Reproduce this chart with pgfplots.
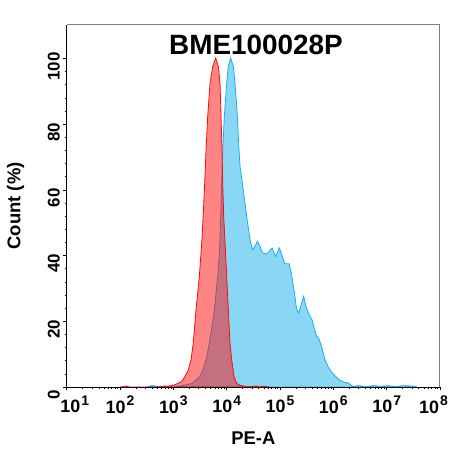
\documentclass[border=0pt]{standalone}
\usepackage{pgfplots}
\pgfplotsset{compat=1.18}
\usepackage{fontspec}
\setmainfont{Liberation Sans}
\definecolor{cblue}{RGB}{20,175,235}
\definecolor{cred}{RGB}{255,10,10}
\newcommand{\tl}[1]{10\hspace{1pt}\raisebox{0.41em}{\fontsize{14}{14}\selectfont #1}}
\begin{document}
\begin{tikzpicture}
\begin{axis}[
  at={(0,0)}, anchor=south west,
  scale only axis, width=373.3bp, height=362.3bp,
  xmin=1, xmax=8, ymin=0, ymax=110.25,
  axis x line*=bottom, axis y line*=left,
  axis line style={black, line width=0.8bp},
  axis on top,
  tick align=outside,
  major tick length=3.5bp, minor tick length=2bp,
  every tick/.style={black, line width=0.6bp},
  xtick={1,2,3,4,5,6,7,8},
  xticklabels={\hbox{\kern16bp\tl{1}},\tl{2},\tl{3},\tl{4},\tl{5},\tl{6},\tl{7},\hbox{\tl{8}\kern13bp}},
  minor xtick={1.301,1.477,1.602,1.699,1.778,1.845,1.903,1.954,
    2.301,2.477,2.602,2.699,2.778,2.845,2.903,2.954,
    3.301,3.477,3.602,3.699,3.778,3.845,3.903,3.954,
    4.301,4.477,4.602,4.699,4.778,4.845,4.903,4.954,
    5.301,5.477,5.602,5.699,5.778,5.845,5.903,5.954,
    6.301,6.477,6.602,6.699,6.778,6.845,6.903,6.954,
    7.301,7.477,7.602,7.699,7.778,7.845,7.903,7.954},
  ytick={0,20,40,60,80,100},
  minor y tick num=4,
  /pgf/number format/assume math mode=true,
  ticklabel style={font=\fontsize{18}{18}\selectfont\bfseries},
  yticklabel style={font=\fontsize{17}{17}\selectfont\bfseries, rotate=90, anchor=south, xshift=-8bp},
  xticklabel style={anchor=north, yshift=-2bp},
  xlabel={PE-A}, ylabel={Count (\%)},
  xlabel style={font=\fontsize{18.5}{18.5}\selectfont\bfseries, at={(rel axis cs:0.5,-0.142)}, anchor=center},
  ylabel style={font=\fontsize{18.5}{18.5}\selectfont\bfseries, at={(rel axis cs:-0.137,0.5)}, anchor=center, rotate=0},
  clip=false,
]
\addplot[draw=cblue, line width=0.8bp, fill=cblue, fill opacity=0.5, draw opacity=1] table {
2.50 0
2.56 0.3
2.62 0.4
2.69 0.2
2.75 0
3.0 0
3.125 0.3
3.25 0.7
3.344 1.1
3.42 2.0
3.5 3.2
3.56 5.5
3.613 8.3
3.675 13.4
3.72 18
3.769 23.5
3.80 28.5
3.831 33.6
3.855 39
3.875 45
3.888 52
3.906 62.1
3.925 72.2
3.956 82.3
4.0 92.5
4.031 97.5
4.075 100.1
4.125 97.5
4.156 92.5
4.2 82.3
4.231 72.2
4.25 67.1
4.294 62.1
4.325 58
4.344 56
4.375 51.9
4.419 46.9
4.45 43.8
4.487 41.8
4.531 42.8
4.575 44.3
4.625 42.8
4.669 40.8
4.75 40.5
4.8 41.3
4.85 42.3
4.919 39.7
4.988 42.3
5.044 39.7
5.094 37.5
5.169 37.5
5.206 35.2
5.262 29.6
5.312 23.5
5.35 22.5
5.406 25.6
5.444 27.6
5.487 24.5
5.544 22.0
5.6 20.5
5.675 15.9
5.738 14.4
5.794 11.3
5.844 8.3
5.906 6.0
5.97 4.5
6.031 3.4
6.125 2.0
6.2 1.5
6.281 1.2
6.344 0.4
6.40 0.2
6.45 0.4
6.5 0.4
6.56 0.2
6.62 0.1
6.69 0.3
6.78 0.4
6.87 0.2
6.97 0.3
7.03 0.4
7.1 0.2
7.2 0.1
7.25 0.3
7.35 0.4
7.45 0.3
7.53 0.2
7.56 0
} \closedcycle;
\addplot[draw=cred, line width=0.8bp, fill=cred, fill opacity=0.5, draw opacity=1] table {
2.0 0
2.10 0.2
2.13 0.3
2.17 0
2.7 0
2.78 0.2
2.84 0.3
2.9 0.2
3.031 0.7
3.157 1.7
3.219 3.2
3.281 5.2
3.331 8.3
3.374 13.4
3.425 23.5
3.487 33.6
3.532 43.8
3.562 53
3.588 62.1
3.613 72.2
3.644 82.3
3.688 92.5
3.738 97.5
3.794 100.1
3.844 97.5
3.875 92.5
3.894 82.3
3.913 72.2
3.925 62.1
3.944 51.9
3.969 43.8
4.0 33.6
4.031 23.5
4.062 13.4
4.094 8.3
4.137 3.2
4.187 1.1
4.25 0.5
4.312 0.3
4.4 0.1
4.5 0.2
4.55 0.3
4.6 0.1
4.7 0.2
4.8 0
} \closedcycle;
\draw[gray, line width=1bp] (rel axis cs:0,1) -- (rel axis cs:1,1) -- (rel axis cs:1,0);
\node[font=\fontsize{28}{28}\selectfont\bfseries, anchor=center] at (rel axis cs:0.507,0.943) {BME100028P};
\end{axis}
\pgfresetboundingbox
\path[use as bounding box] (-66.7bp,-67bp) rectangle (385.3bp,387bp);
\end{tikzpicture}
\end{document}
